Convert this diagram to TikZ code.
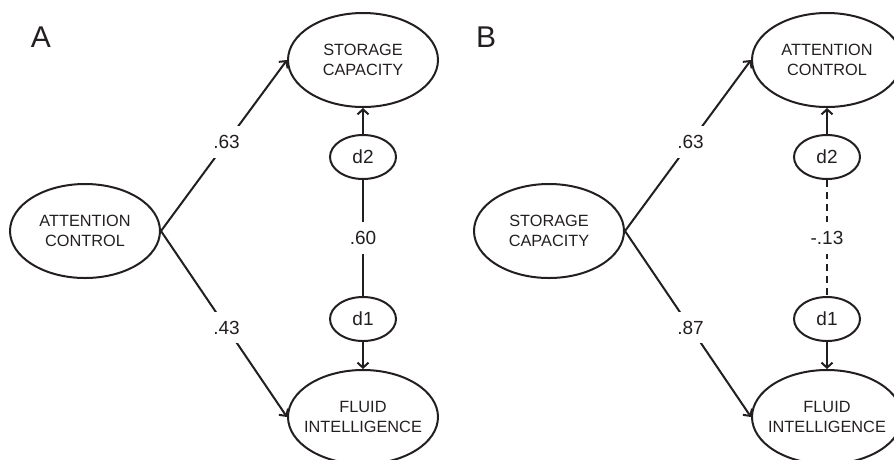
\documentclass[tikz,border=0pt]{standalone}
\usepackage{fontspec}
\setmainfont{Liberation Sans}
\usetikzlibrary{shapes.geometric,arrows.meta}
\definecolor{ink}{HTML}{231F20}
\begin{document}
\begin{tikzpicture}[x=1pt,y=-1pt,
  line width=2pt, color=ink,
  latent/.style={ellipse, draw, line width=2pt, minimum width=150pt, minimum height=94pt, inner sep=0pt},
  latentText/.style={font=\fontsize{16.3}{19.5}\selectfont, align=center, inner sep=0pt},
  resid/.style={ellipse, draw, line width=2pt, minimum width=66pt, minimum height=44pt, inner sep=0pt, font=\fontsize{19}{22}\selectfont},
  coef/.style={fill=white, font=\fontsize{19}{22}\selectfont, inner xsep=4pt, inner ysep=9pt},
  effect/.style={-{Straight Barb[length=5pt,width=11pt]}},
  panelLetter/.style={font=\fontsize{30}{30}\selectfont, inner sep=0pt}
]
\useasboundingbox (0,0) rectangle (894,459);

% ---------- Model A: attention control predicts both factors ----------
\node[panelLetter] (labA) at (41,37) {A};
\node[latent, label={[latentText]center:ATTENTION\\CONTROL}] (acA) at (85,231) {};
\node[latent, label={[latentText]center:STORAGE\\CAPACITY}] (scA) at (363,60) {};
\node[latent, label={[latentText]center:FLUID\\INTELLIGENCE}] (fiA) at (363,417) {};
\node[resid] (d2A) at (363,157) {d2};
\node[resid] (d1A) at (363,319) {d1};

\draw[effect] (acA.east) -- node[coef, pos=0.52] {.63} (scA.west);
\draw[effect] (acA.east) -- node[coef, pos=0.52] {.43} (fiA.west);
\draw[effect] (d2A.north) -- (scA.south);
\draw[effect] (d1A.south) -- (fiA.north);
\draw (d2A.south) -- node[coef] {.60} (d1A.north);

% ---------- Model B: storage capacity predicts both factors ----------
\node[panelLetter] (labB) at (486,37) {B};
\node[latent, label={[latentText]center:STORAGE\\CAPACITY}] (scB) at (549,231) {};
\node[latent, label={[latentText]center:ATTENTION\\CONTROL}] (acB) at (827,60) {};
\node[latent, label={[latentText]center:FLUID\\INTELLIGENCE}] (fiB) at (827,417) {};
\node[resid] (d2B) at (827,157) {d2};
\node[resid] (d1B) at (827,319) {d1};

\draw[effect] (scB.east) -- node[coef, pos=0.52] {.63} (acB.west);
\draw[effect] (scB.east) -- node[coef, pos=0.52] {.87} (fiB.west);
\draw[effect] (d2B.north) -- (acB.south);
\draw[effect] (d1B.south) -- (fiB.north);
\draw[dash pattern=on 7pt off 5pt] (d2B.south) -- node[coef] {-.13} (d1B.north);
\end{tikzpicture}
\end{document}
